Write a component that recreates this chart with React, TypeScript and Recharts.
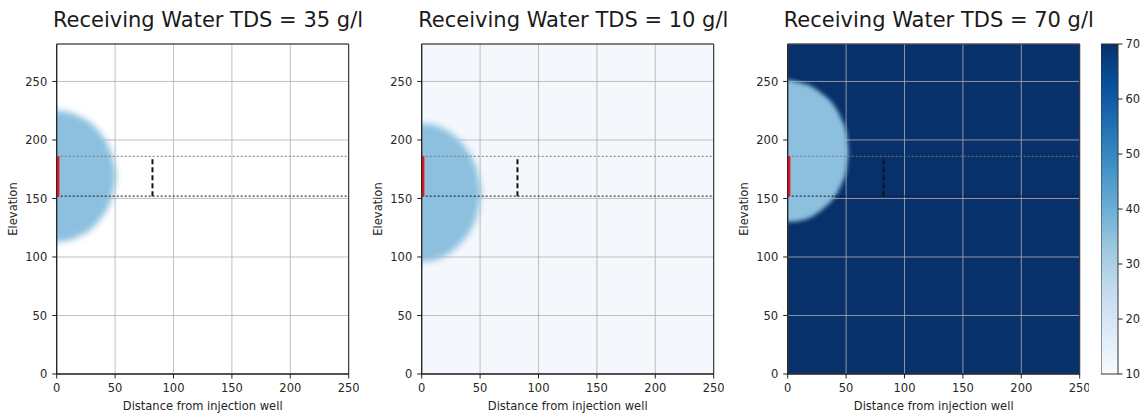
import {
  ComposedChart,
  Area,
  XAxis,
  YAxis,
  CartesianGrid,
  ReferenceLine,
  ReferenceArea,
  BarChart,
  Bar,
} from "recharts"

const xTicks = [0, 50, 100, 150, 200, 250]
const yTicks = [0, 50, 100, 150, 200, 250]
const colorTicks = [10, 20, 30, 40, 50, 60, 70]

const receivingTds = [35, 10, 70]

// plume outline: distance, lower and upper elevation
const plumeX35 = [-5, 0, 10, 20, 30, 38, 44, 48, 51]
const plumeLow35 = [113, 113, 114, 118, 124, 133, 142, 153, 169]
const plumeHigh35 = [225, 225, 224, 220, 214, 205, 196, 185, 169]

const plumeX10 = [-5, 0, 10, 20, 30, 38, 44, 48, 51]
const plumeLow10 = [96, 96, 97, 101, 108, 117, 127, 138, 155]
const plumeHigh10 = [214, 214, 213, 209, 202, 193, 183, 172, 155]

const plumeX70 = [-5, 0, 10, 20, 30, 40, 46, 50, 52]
const plumeLow70 = [130, 130, 131, 134, 141, 151, 162, 173, 190]
const plumeHigh70 = [251, 251, 249, 246, 239, 229, 218, 207, 190]

const wellBottom = 152
const wellTop = 186
const monitorX = 82
const yMax = 282

const colorRange = [{ name: "TDS", range: [10, 70] }]

const plumeColor = "#8cc0de"
const tickStyle = { fontFamily: "DejaVu Sans", fontSize: 11.5, fill: "#262626" }

function makeTable(xs: number[], lows: number[], highs: number[]) {
  return xs.map((x, i) => ({ x, band: [lows[i], highs[i]] }))
}

function Panel(props: {
  left: number
  tds: number
  bg: string
  blur: number
  data: { x: number; band: number[] }[]
}) {
  const { left, tds, bg, blur, data } = props
  return (
    <div style={{ position: "absolute", left, top: 0, width: 360, height: 415 }}>
      <div
        style={{
          position: "absolute",
          left: 8,
          width: 400,
          top: 10,
          lineHeight: "21px",
          textAlign: "center",
          fontFamily: "DejaVu Sans",
          fontSize: 21,
          color: "#1a1a1a",
          whiteSpace: "nowrap",
        }}
      >
        Receiving Water TDS = {tds} g/l
      </div>
      <ComposedChart
        width={358.7}
        height={415}
        data={data}
        margin={{ top: 44, right: 10, bottom: 5, left: 6.7 }}
      >
        <CartesianGrid fill={bg} stroke="none" />
        <XAxis
          type="number"
          dataKey="x"
          domain={[0, 250]}
          ticks={xTicks}
          allowDataOverflow
          height={36}
          tick={tickStyle}
          tickSize={4.5}
          tickMargin={5}
          stroke="#222"
          label={{
            value: "Distance from injection well",
            position: "insideBottom",
            offset: 0,
            style: { fontFamily: "DejaVu Sans", fontSize: 11.5, fill: "#262626" },
          }}
        />
        <YAxis
          type="number"
          domain={[0, yMax]}
          ticks={yTicks}
          allowDataOverflow
          width={50}
          tick={tickStyle}
          tickSize={4.5}
          tickMargin={5}
          stroke="#222"
          label={{
            value: "Elevation",
            angle: -90,
            position: "insideLeft",
            offset: 5.8,
            style: {
              fontFamily: "DejaVu Sans",
              fontSize: 11.5,
              fill: "#262626",
              textAnchor: "middle",
            },
          }}
        />
        <Area
          dataKey="band"
          type="monotone"
          fill={plumeColor}
          fillOpacity={1}
          stroke="none"
          isAnimationActive={false}
          style={{ filter: `blur(${blur}px)` }}
        />
        <CartesianGrid stroke="#b0b0b0" strokeWidth={0.8} />
        <ReferenceLine y={wellTop} stroke="#777" strokeWidth={1} strokeDasharray="2 2" />
        <ReferenceLine y={wellBottom} stroke="#111" strokeWidth={1} strokeDasharray="2 2" />
        <ReferenceLine
          segment={[
            { x: monitorX, y: wellBottom },
            { x: monitorX, y: wellTop },
          ]}
          stroke="#111"
          strokeWidth={2}
          strokeDasharray="5 3"
        />
        <ReferenceLine
          segment={[
            { x: 1, y: wellBottom },
            { x: 1, y: wellTop },
          ]}
          stroke="#e8141c"
          strokeWidth={3}
        />
        <ReferenceArea x1={0} x2={250} y1={0} y2={yMax} fill="none" stroke="#222" strokeWidth={1} />
      </ComposedChart>
    </div>
  )
}

function ColorBar() {
  return (
    <div style={{ position: "absolute", left: 1101, top: 0 }}>
      <BarChart
        width={47}
        height={415}
        data={colorRange}
        margin={{ top: 44, right: 0, bottom: 41, left: 0 }}
        barCategoryGap={0}
      >
        <defs>
          <linearGradient id="bluesGrad" x1="0" y1="0" x2="0" y2="1">
            <stop offset="0%" stopColor="#08306b" />
            <stop offset="12.5%" stopColor="#08519c" />
            <stop offset="25%" stopColor="#2171b5" />
            <stop offset="37.5%" stopColor="#4292c6" />
            <stop offset="50%" stopColor="#6baed6" />
            <stop offset="62.5%" stopColor="#9ecae1" />
            <stop offset="75%" stopColor="#c6dbef" />
            <stop offset="87.5%" stopColor="#deebf7" />
            <stop offset="100%" stopColor="#f7fbff" />
          </linearGradient>
        </defs>
        <XAxis dataKey="name" hide />
        <YAxis
          orientation="right"
          type="number"
          domain={[10, 70]}
          ticks={colorTicks}
          width={30}
          tick={tickStyle}
          tickSize={4.5}
          tickMargin={3}
          axisLine={false}
          stroke="#222"
        />
        <Bar
          dataKey="range"
          fill="url(#bluesGrad)"
          stroke="#333"
          strokeWidth={1}
          isAnimationActive={false}
        />
      </BarChart>
    </div>
  )
}

export default function App() {
  return (
    <div
      style={{
        position: "absolute",
        left: 0,
        top: 0,
        width: 1142,
        height: 415,
        background: "#ffffff",
        overflow: "hidden",
      }}
    >
      <Panel left={0} tds={receivingTds[0]} bg="#ffffff" blur={3} data={makeTable(plumeX35, plumeLow35, plumeHigh35)} />
      <Panel left={365.3} tds={receivingTds[1]} bg="#f4f8fd" blur={3} data={makeTable(plumeX10, plumeLow10, plumeHigh10)} />
      <Panel left={730.8} tds={receivingTds[2]} bg="#08306b" blur={2} data={makeTable(plumeX70, plumeLow70, plumeHigh70)} />
      <ColorBar />
    </div>
  )
}
